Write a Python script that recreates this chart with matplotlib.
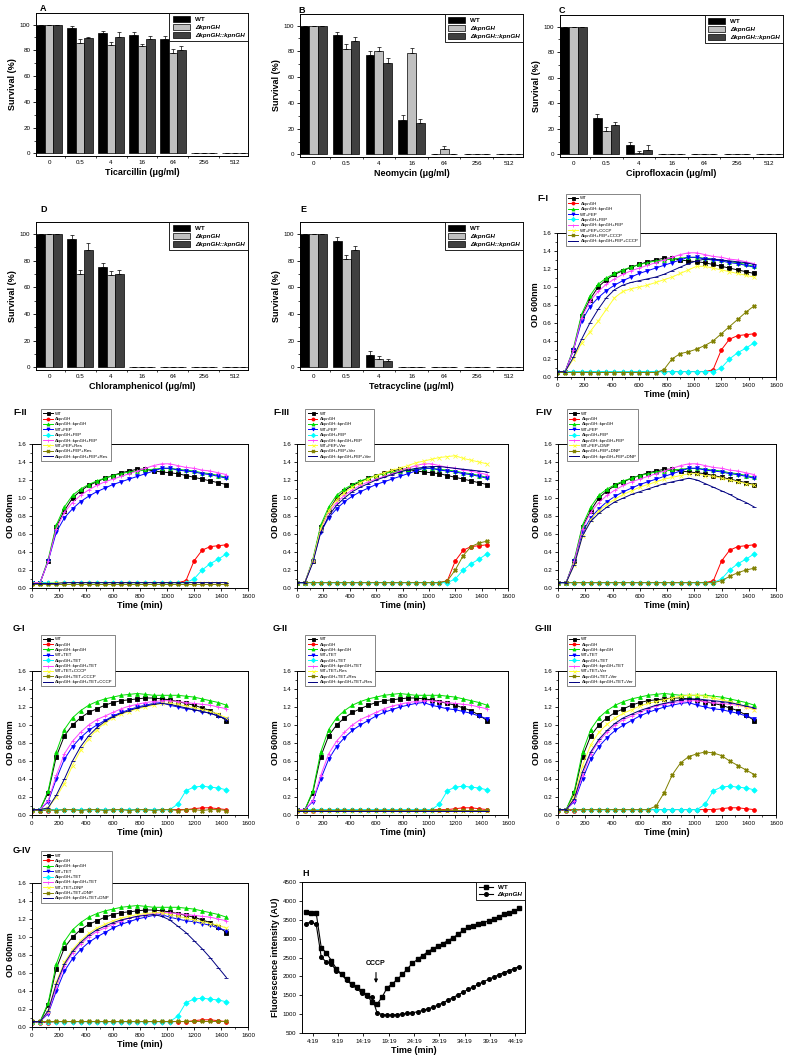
import numpy as np
import matplotlib.pyplot as plt
from matplotlib.ticker import MultipleLocator

plt.rcParams['font.family'] = ['Liberation Sans', 'DejaVu Sans']

FIG_W, FIG_H = 788, 1059

# --- 1. BAR DATA (survival %) ---
DOSES = ['0', '0.5', '4', '16', '64', '256', '512']
STRAINS = ['WT', 'ΔkpnGH', 'ΔkpnGH::kpnGH']
BAR_COLORS = ['#000000', '#c0c0c0', '#404040']

TIC_WT = [100, 97, 93.5, 92, 88.5, 0, 0]
TIC_KO = [100, 86, 84.5, 83.5, 78, 0, 0]
TIC_COMP = [100, 89.5, 90, 89, 80.5, 0, 0]
TIC_WT_ERR = [0, 2, 1.5, 2, 2.5, 0, 0]
TIC_KO_ERR = [0, 3, 2, 1.5, 3, 0, 0]
TIC_COMP_ERR = [0, 0.5, 4, 2.5, 3, 0, 0]

NEO_WT = [100, 92.5, 77.5, 27, 0, 0, 0]
NEO_KO = [100, 81.5, 80, 78.5, 4, 0, 0]
NEO_COMP = [100, 88, 71, 24.5, 0, 0, 0]
NEO_WT_ERR = [0, 2.5, 3, 3.5, 0, 0, 0]
NEO_KO_ERR = [0, 4.5, 3, 4, 2.5, 0, 0]
NEO_COMP_ERR = [0, 3, 3.5, 3, 0, 0, 0]

CIP_WT = [100, 28.5, 7.5, 0, 0, 0, 0]
CIP_KO = [100, 18, 1.5, 0, 0, 0, 0]
CIP_COMP = [100, 23, 3.5, 0, 0, 0, 0]
CIP_WT_ERR = [0, 3, 2.5, 0, 0, 0, 0]
CIP_KO_ERR = [0, 3.5, 1, 0, 0, 0, 0]
CIP_COMP_ERR = [0, 2, 3.5, 0, 0, 0, 0]

CHL_WT = [100, 96, 75, 0, 0, 0, 0]
CHL_KO = [100, 70, 69, 0, 0, 0, 0]
CHL_COMP = [100, 88, 70, 0, 0, 0, 0]
CHL_WT_ERR = [0, 3, 3, 0, 0, 0, 0]
CHL_KO_ERR = [0, 3, 3, 0, 0, 0, 0]
CHL_COMP_ERR = [0, 5, 3, 0, 0, 0, 0]

TET_WT = [100, 95, 9, 0, 0, 0, 0]
TET_KO = [100, 81, 6.5, 0, 0, 0, 0]
TET_COMP = [100, 88, 5, 0, 0, 0, 0]
TET_WT_ERR = [0, 3, 3, 0, 0, 0, 0]
TET_KO_ERR = [0, 3, 2, 0, 0, 0, 0]
TET_COMP_ERR = [0, 3, 1.5, 0, 0, 0, 0]

# --- 2. GROWTH CURVES (OD 600nm) ---
TIME = [0, 60, 120, 180, 240, 300, 360, 420, 480, 540, 600, 660, 720,
        780, 840, 900, 960, 1020, 1080, 1140, 1200, 1260, 1320, 1380, 1440]

WT_F = [0.06, 0.06, 0.30, 0.68, 0.86, 1.00, 1.08, 1.14, 1.18, 1.22, 1.25, 1.28, 1.30,
        1.32, 1.32, 1.30, 1.29, 1.28, 1.27, 1.25, 1.23, 1.21, 1.19, 1.17, 1.15]
KO_F = [0.06, 0.06, 0.06, 0.06, 0.06, 0.06, 0.06, 0.06, 0.06, 0.06, 0.06, 0.06, 0.06,
        0.06, 0.06, 0.06, 0.06, 0.06, 0.06, 0.08, 0.30, 0.42, 0.46, 0.47, 0.48]
COMP_F = [0.06, 0.06, 0.32, 0.70, 0.90, 1.03, 1.10, 1.15, 1.19, 1.22, 1.25, 1.27, 1.29,
          1.30, 1.31, 1.32, 1.33, 1.33, 1.32, 1.31, 1.30, 1.28, 1.27, 1.25, 1.23]
WT_FEP = [0.06, 0.06, 0.30, 0.62, 0.78, 0.88, 0.96, 1.02, 1.07, 1.11, 1.15, 1.18, 1.21,
          1.24, 1.27, 1.30, 1.33, 1.33, 1.31, 1.30, 1.29, 1.27, 1.26, 1.24, 1.22]
KO_FEP = [0.06, 0.06, 0.06, 0.06, 0.06, 0.06, 0.06, 0.06, 0.06, 0.06, 0.06, 0.06, 0.06,
          0.06, 0.06, 0.06, 0.06, 0.06, 0.06, 0.06, 0.10, 0.20, 0.27, 0.32, 0.38]
COMP_FEP = [0.06, 0.06, 0.30, 0.66, 0.84, 0.95, 1.03, 1.09, 1.14, 1.18, 1.21, 1.24, 1.27,
            1.30, 1.33, 1.36, 1.38, 1.38, 1.36, 1.34, 1.33, 1.31, 1.30, 1.28, 1.26]

WT_FEP_CCCP = [0.06, 0.06, 0.20, 0.38, 0.50, 0.62, 0.75, 0.88, 0.95, 0.98, 1.00, 1.02, 1.05,
               1.08, 1.11, 1.15, 1.19, 1.23, 1.23, 1.21, 1.19, 1.17, 1.15, 1.13, 1.11]
KO_FEP_CCCP = [0.05, 0.05, 0.05, 0.05, 0.05, 0.05, 0.05, 0.05, 0.05, 0.05, 0.05, 0.05, 0.05,
               0.08, 0.20, 0.26, 0.28, 0.31, 0.35, 0.40, 0.48, 0.56, 0.64, 0.72, 0.79]
COMP_FEP_CCCP = [0.06, 0.06, 0.22, 0.42, 0.60, 0.75, 0.88, 0.97, 1.02, 1.05, 1.07, 1.09, 1.11,
                 1.14, 1.18, 1.22, 1.26, 1.29, 1.31, 1.31, 1.30, 1.29, 1.28, 1.27, 1.25]

WT_FEP_RES = [0.05, 0.05, 0.05, 0.06, 0.06, 0.06, 0.06, 0.06, 0.06, 0.06, 0.06, 0.06, 0.06,
              0.06, 0.06, 0.06, 0.06, 0.06, 0.06, 0.06, 0.06, 0.06, 0.06, 0.06, 0.06]
KO_FEP_RES = [0.05, 0.05, 0.05, 0.05, 0.05, 0.05, 0.05, 0.05, 0.05, 0.05, 0.05, 0.05, 0.05,
              0.05, 0.05, 0.05, 0.05, 0.05, 0.05, 0.05, 0.05, 0.05, 0.05, 0.05, 0.05]
COMP_FEP_RES = [0.05, 0.05, 0.05, 0.05, 0.06, 0.06, 0.06, 0.06, 0.06, 0.06, 0.06, 0.06, 0.06,
                0.06, 0.06, 0.06, 0.06, 0.06, 0.06, 0.06, 0.06, 0.06, 0.06, 0.06, 0.06]

WT_FEP_VER = [0.06, 0.06, 0.30, 0.66, 0.86, 0.98, 1.06, 1.12, 1.17, 1.21, 1.25, 1.28, 1.31,
              1.33, 1.36, 1.39, 1.41, 1.43, 1.45, 1.46, 1.47, 1.44, 1.42, 1.40, 1.38]
KO_FEP_VER = [0.06, 0.06, 0.06, 0.06, 0.06, 0.06, 0.06, 0.06, 0.06, 0.06, 0.06, 0.06, 0.06,
              0.06, 0.06, 0.06, 0.06, 0.06, 0.06, 0.08, 0.20, 0.36, 0.46, 0.50, 0.52]
COMP_FEP_VER = [0.06, 0.06, 0.28, 0.62, 0.80, 0.92, 1.00, 1.07, 1.12, 1.16, 1.20, 1.23, 1.26,
                1.29, 1.31, 1.33, 1.34, 1.35, 1.35, 1.34, 1.33, 1.32, 1.31, 1.30, 1.29]

WT_FEP_DNP = [0.06, 0.06, 0.26, 0.58, 0.76, 0.86, 0.93, 0.99, 1.04, 1.08, 1.12, 1.15, 1.18,
              1.21, 1.23, 1.25, 1.27, 1.27, 1.25, 1.24, 1.22, 1.20, 1.18, 1.16, 1.14]
KO_FEP_DNP = [0.06, 0.06, 0.06, 0.06, 0.06, 0.06, 0.06, 0.06, 0.06, 0.06, 0.06, 0.06, 0.06,
              0.06, 0.06, 0.06, 0.06, 0.06, 0.06, 0.06, 0.08, 0.13, 0.17, 0.20, 0.22]
COMP_FEP_DNP = [0.06, 0.06, 0.26, 0.58, 0.74, 0.83, 0.90, 0.96, 1.00, 1.04, 1.07, 1.10, 1.13,
                1.16, 1.18, 1.20, 1.22, 1.20, 1.16, 1.12, 1.08, 1.04, 0.99, 0.95, 0.90]

WT_G = [0.06, 0.06, 0.25, 0.65, 0.88, 1.00, 1.08, 1.14, 1.18, 1.22, 1.25, 1.27, 1.28,
        1.29, 1.30, 1.30, 1.29, 1.28, 1.26, 1.24, 1.22, 1.19, 1.16, 1.11, 1.05]
KO_G = [0.05, 0.05, 0.05, 0.06, 0.06, 0.06, 0.06, 0.06, 0.06, 0.06, 0.06, 0.06, 0.06,
        0.06, 0.06, 0.06, 0.06, 0.06, 0.06, 0.06, 0.07, 0.08, 0.08, 0.07, 0.06]
COMP_G = [0.06, 0.06, 0.27, 0.70, 0.95, 1.08, 1.16, 1.22, 1.26, 1.29, 1.31, 1.33, 1.34,
          1.35, 1.34, 1.33, 1.33, 1.33, 1.33, 1.32, 1.31, 1.29, 1.27, 1.25, 1.22]
WT_TET = [0.06, 0.06, 0.15, 0.40, 0.62, 0.76, 0.86, 0.94, 1.00, 1.05, 1.10, 1.14, 1.17,
          1.20, 1.22, 1.24, 1.25, 1.22, 1.20, 1.18, 1.17, 1.15, 1.13, 1.10, 1.07]
KO_TET = [0.06, 0.06, 0.06, 0.06, 0.06, 0.06, 0.06, 0.06, 0.06, 0.06, 0.06, 0.06, 0.06,
          0.06, 0.06, 0.06, 0.06, 0.06, 0.12, 0.27, 0.31, 0.32, 0.31, 0.30, 0.28]
COMP_TET = [0.06, 0.06, 0.16, 0.44, 0.68, 0.82, 0.92, 1.00, 1.06, 1.10, 1.14, 1.18, 1.21,
            1.23, 1.25, 1.26, 1.27, 1.27, 1.26, 1.25, 1.24, 1.23, 1.22, 1.20, 1.18]

WT_TET_CCCP = [0.06, 0.06, 0.08, 0.20, 0.35, 0.55, 0.72, 0.85, 0.95, 1.02, 1.08, 1.12, 1.15,
               1.18, 1.20, 1.22, 1.24, 1.24, 1.23, 1.21, 1.19, 1.17, 1.15, 1.12, 1.08]
KO_TET_CCCP = [0.06, 0.05, 0.06, 0.05, 0.06, 0.06, 0.05, 0.06, 0.06, 0.05, 0.06, 0.06, 0.05,
               0.06, 0.06, 0.05, 0.06, 0.06, 0.05, 0.06, 0.06, 0.05, 0.06, 0.06, 0.05]
COMP_TET_CCCP = [0.06, 0.06, 0.08, 0.22, 0.40, 0.60, 0.76, 0.88, 0.97, 1.04, 1.09, 1.13, 1.16,
                 1.19, 1.21, 1.23, 1.24, 1.23, 1.21, 1.19, 1.17, 1.15, 1.13, 1.10, 1.06]

WT_TET_RES = [0.05, 0.05, 0.05, 0.05, 0.05, 0.05, 0.05, 0.05, 0.05, 0.05, 0.05, 0.05, 0.05,
              0.05, 0.05, 0.05, 0.05, 0.05, 0.05, 0.05, 0.05, 0.05, 0.05, 0.05, 0.05]
KO_TET_RES = [0.06, 0.06, 0.06, 0.06, 0.06, 0.06, 0.06, 0.06, 0.06, 0.06, 0.06, 0.06, 0.06,
              0.06, 0.06, 0.06, 0.06, 0.06, 0.06, 0.06, 0.06, 0.06, 0.06, 0.06, 0.06]
COMP_TET_RES = [0.05, 0.05, 0.05, 0.05, 0.05, 0.05, 0.05, 0.05, 0.05, 0.05, 0.05, 0.05, 0.05,
                0.05, 0.05, 0.05, 0.05, 0.05, 0.05, 0.05, 0.05, 0.05, 0.05, 0.05, 0.05]

WT_TET_VER = [0.06, 0.06, 0.20, 0.55, 0.78, 0.92, 1.01, 1.08, 1.13, 1.17, 1.21, 1.24, 1.26,
              1.28, 1.30, 1.32, 1.33, 1.33, 1.32, 1.30, 1.28, 1.26, 1.23, 1.20, 1.17]
KO_TET_VER = [0.06, 0.06, 0.06, 0.06, 0.06, 0.06, 0.06, 0.06, 0.06, 0.06, 0.06, 0.06, 0.10,
              0.25, 0.45, 0.58, 0.65, 0.68, 0.70, 0.69, 0.66, 0.60, 0.55, 0.50, 0.45]
COMP_TET_VER = [0.06, 0.06, 0.18, 0.48, 0.70, 0.84, 0.94, 1.02, 1.08, 1.12, 1.16, 1.19, 1.22,
                1.24, 1.26, 1.28, 1.29, 1.29, 1.28, 1.27, 1.26, 1.25, 1.23, 1.21, 1.19]

WT_TET_DNP = [0.06, 0.06, 0.18, 0.50, 0.72, 0.86, 0.96, 1.04, 1.10, 1.14, 1.18, 1.21, 1.23,
              1.25, 1.26, 1.27, 1.27, 1.25, 1.23, 1.21, 1.19, 1.17, 1.15, 1.13, 1.10]
KO_TET_DNP = [0.07, 0.07, 0.07, 0.07, 0.07, 0.07, 0.07, 0.07, 0.07, 0.07, 0.07, 0.07, 0.07,
              0.07, 0.07, 0.07, 0.07, 0.07, 0.07, 0.07, 0.07, 0.07, 0.07, 0.07, 0.07]
COMP_TET_DNP = [0.06, 0.06, 0.18, 0.48, 0.70, 0.84, 0.94, 1.02, 1.08, 1.12, 1.16, 1.19, 1.21,
                1.23, 1.24, 1.25, 1.23, 1.19, 1.12, 1.05, 0.96, 0.87, 0.77, 0.66, 0.55]

# --- 3. MEMBRANE POTENTIAL (panel H) ---
TIME_H = [3, 4, 5, 6, 7, 8, 9, 10, 11, 12, 13, 14, 15, 16, 17, 18, 19, 20, 21, 22, 23, 24,
          25, 26, 27, 28, 29, 30, 31, 32, 33, 34, 35, 36, 37, 38, 39, 40, 41, 42, 43, 44, 45]
H_WT = [3710, 3690, 3680, 2760, 2620, 2420, 2200, 2060, 1920, 1800, 1720, 1620, 1500, 1320,
        1260, 1450, 1700, 1800, 1920, 2050, 2200, 2350, 2450, 2550, 2650, 2730, 2800, 2870,
        2950, 3020, 3120, 3220, 3300, 3340, 3380, 3420, 3470, 3520, 3580, 3640, 3690, 3730, 3800]
H_KO = [3400, 3440, 3380, 2510, 2380, 2330, 2150, 2050, 1900, 1780, 1680, 1560, 1480, 1450,
        1040, 990, 975, 980, 990, 1000, 1020, 1040, 1060, 1100, 1140, 1180, 1240, 1300,
        1370, 1440, 1510, 1580, 1660, 1720, 1790, 1860, 1920, 1980, 2040, 2100, 2150, 2200, 2260]

GROWTH_STYLES = [
    dict(color='black', marker='s'),
    dict(color='red', marker='o'),
    dict(color='#00dd00', marker='^'),
    dict(color='blue', marker='v'),
    dict(color='cyan', marker='D'),
    dict(color='#ff44ff', marker='+'),
    dict(color='#ffff33', marker='x'),
    dict(color='#808000', marker='X'),
    dict(color='#000080', marker='_'),
]

fig = plt.figure(figsize=(FIG_W / 100, FIG_H / 100), dpi=100)


def px_rect(x0, y0, x1, y1):
    return [x0 / FIG_W, 1 - y1 / FIG_H, (x1 - x0) / FIG_W, (y1 - y0) / FIG_H]


def panel_label(x, y, text):
    fig.text(x / FIG_W, 1 - y / FIG_H, text, fontsize=6.5, fontweight='bold', va='top')


def style_axis(ax):
    for sp in ax.spines.values():
        sp.set_linewidth(0.7)
    ax.tick_params(which='major', direction='out', length=2.5, width=0.6, labelsize=4.5, pad=1.5)
    ax.tick_params(which='minor', direction='out', length=1.5, width=0.5)


def bar_panel(rect, label, lpos, drug, means, errs):
    ax = fig.add_axes(px_rect(*rect))
    x = np.arange(len(DOSES))
    w = 0.27
    for i, (m, e) in enumerate(zip(means, errs)):
        ax.bar(x + (i - 1) * w, m, w, color=BAR_COLORS[i], edgecolor='black', linewidth=0.5,
               yerr=[np.zeros(len(e)), e], label=STRAINS[i],
               error_kw=dict(ecolor='black', elinewidth=0.5, capsize=1.5, capthick=0.5))
    ax.set_xlim(-0.42, 6.42)
    ax.set_ylim(-2, 109)
    ax.set_xticks(x)
    ax.set_xticklabels(DOSES)
    ax.set_xticks(x[:-1] + 0.5, minor=True)
    ax.yaxis.set_major_locator(MultipleLocator(20))
    ax.yaxis.set_minor_locator(MultipleLocator(10))
    style_axis(ax)
    ax.tick_params(axis='x', which='major', length=0, pad=3)
    ax.set_ylabel('Survival (%)', fontsize=6.5, fontweight='bold', labelpad=2)
    ax.set_xlabel(f'{drug} (μg/ml)', fontsize=6.5, fontweight='bold', labelpad=2)
    leg = ax.legend(loc='upper right', bbox_to_anchor=(1.0, 1.0), fontsize=4.5, frameon=True,
                    fancybox=False, edgecolor='black', framealpha=1, borderpad=0.5,
                    handlelength=2.8, handleheight=1.0, labelspacing=0.35, borderaxespad=0)
    leg.get_frame().set_linewidth(0.6)
    for t in leg.get_texts():
        t.set_fontweight('bold')
    leg.get_texts()[1].set_style('italic')
    leg.get_texts()[2].set_style('italic')
    panel_label(*lpos, label)
    return ax


def growth_panel(rect, label, lpos, series, names, leg_top):
    ax = fig.add_axes(px_rect(*rect))
    for ys, name, st in zip(series, names, GROWTH_STYLES):
        ax.plot(TIME, ys, label=name, lw=0.7, markersize=2.7, markeredgewidth=0.6, **st)
    ax.set_xlim(0, 1600)
    ax.set_ylim(0, 1.6)
    ax.xaxis.set_major_locator(MultipleLocator(200))
    ax.xaxis.set_minor_locator(MultipleLocator(100))
    ax.yaxis.set_major_locator(MultipleLocator(0.2))
    ax.yaxis.set_minor_locator(MultipleLocator(0.1))
    ax.yaxis.set_major_formatter(plt.FormatStrFormatter('%.1f'))
    style_axis(ax)
    ax.set_ylabel('OD 600nm', fontsize=6.5, fontweight='bold', labelpad=2)
    ax.set_xlabel('Time (min)', fontsize=6.5, fontweight='bold', labelpad=2)
    leg = ax.legend(loc='upper left', bbox_to_anchor=(0.04, leg_top), fontsize=3.2,
                    frameon=True, fancybox=False, edgecolor='#555555', framealpha=1,
                    borderpad=0.5, handlelength=2.2, handletextpad=0.6, labelspacing=0.28,
                    markerscale=0.8, borderaxespad=0)
    leg.get_frame().set_linewidth(0.5)
    panel_label(*lpos, label)
    return ax


def names_for(drug, extra):
    return ['WT', 'ΔkpnGH', 'ΔkpnGH::kpnGH', f'WT+{drug}', f'ΔkpnGH+{drug}',
            f'ΔkpnGH::kpnGH+{drug}', f'WT+{drug}+{extra}', f'ΔkpnGH+{drug}+{extra}',
            f'ΔkpnGH::kpnGH+{drug}+{extra}']


# --- bar panels ---
bar_panel((36, 13, 248, 156), 'A', (40, 4), 'Ticarcillin',
          [TIC_WT, TIC_KO, TIC_COMP], [TIC_WT_ERR, TIC_KO_ERR, TIC_COMP_ERR])
bar_panel((300, 14, 523, 157), 'B', (298, 6), 'Neomycin',
          [NEO_WT, NEO_KO, NEO_COMP], [NEO_WT_ERR, NEO_KO_ERR, NEO_COMP_ERR])
bar_panel((560, 15, 783, 157), 'C', (559, 6), 'Ciprofloxacin',
          [CIP_WT, CIP_KO, CIP_COMP], [CIP_WT_ERR, CIP_KO_ERR, CIP_COMP_ERR])
bar_panel((36, 222, 248, 370), 'D', (40, 205), 'Chloramphenicol',
          [CHL_WT, CHL_KO, CHL_COMP], [CHL_WT_ERR, CHL_KO_ERR, CHL_COMP_ERR])
bar_panel((300, 222, 523, 370), 'E', (300, 205), 'Tetracycline',
          [TET_WT, TET_KO, TET_COMP], [TET_WT_ERR, TET_KO_ERR, TET_COMP_ERR])

# --- growth panels ---
F_BASE = [WT_F, KO_F, COMP_F, WT_FEP, KO_FEP, COMP_FEP]
G_BASE = [WT_G, KO_G, COMP_G, WT_TET, KO_TET, COMP_TET]

growth_panel((557, 233, 776, 377), 'F-I', (537, 194),
             F_BASE + [WT_FEP_CCCP, KO_FEP_CCCP, COMP_FEP_CCCP], names_for('FEP', 'CCCP'), 1.27)
growth_panel((32, 444, 248, 588), 'F-II', (13, 408),
             F_BASE + [WT_FEP_RES, KO_FEP_RES, COMP_FEP_RES], names_for('FEP', 'Res'), 1.24)
growth_panel((297, 444, 508, 588), 'F-III', (273, 408),
             F_BASE + [WT_FEP_VER, KO_FEP_VER, COMP_FEP_VER], names_for('FEP', 'Ver'), 1.24)
growth_panel((558, 444, 776, 588), 'F-IV', (535, 408),
             F_BASE + [WT_FEP_DNP, KO_FEP_DNP, COMP_FEP_DNP], names_for('FEP', 'DNP'), 1.24)
growth_panel((32, 671, 248, 815), 'G-I', (13, 624),
             G_BASE + [WT_TET_CCCP, KO_TET_CCCP, COMP_TET_CCCP], names_for('TET', 'CCCP'), 1.25)
growth_panel((297, 671, 508, 815), 'G-II', (273, 624),
             G_BASE + [WT_TET_RES, KO_TET_RES, COMP_TET_RES], names_for('TET', 'Res'), 1.25)
growth_panel((558, 671, 776, 815), 'G-III', (535, 624),
             G_BASE + [WT_TET_VER, KO_TET_VER, COMP_TET_VER], names_for('TET', 'Ver'), 1.25)
growth_panel((32, 883, 248, 1027), 'G-IV', (13, 846),
             G_BASE + [WT_TET_DNP, KO_TET_DNP, COMP_TET_DNP], names_for('TET', 'DNP'), 1.22)

# --- panel H ---
axh = fig.add_axes(px_rect(302, 882, 525, 1033))
axh.plot(TIME_H, H_WT, '-s', color='black', lw=0.8, markersize=2.6, label='WT')
axh.plot(TIME_H, H_KO, '-o', color='black', lw=0.8, markersize=2.6, label='ΔkpnGH')
axh.set_xlim(2.2, 46.2)
axh.set_ylim(500, 4500)
h_ticks = [4 + 19 / 60 + 5 * k for k in range(9)]
axh.set_xticks(h_ticks)
axh.set_xticklabels([f'{4 + 5 * k}:19' for k in range(9)])
axh.yaxis.set_major_locator(MultipleLocator(500))
style_axis(axh)
axh.set_ylabel('Fluorescence intensity (AU)', fontsize=6.5, fontweight='bold', labelpad=2)
axh.set_xlabel('Time (min)', fontsize=6.5, fontweight='bold', labelpad=2)
axh.annotate('CCCP', xy=(16.8, 1750), xytext=(16.8, 2250), ha='center', va='bottom',
             fontsize=5, fontweight='bold',
             arrowprops=dict(arrowstyle='-|>', color='black', lw=0.8, mutation_scale=5))
legh = axh.legend(loc='upper right', fontsize=4.5, frameon=True, fancybox=False,
                  edgecolor='black', framealpha=1, borderpad=0.4, handlelength=2.2,
                  labelspacing=0.3, borderaxespad=0)
legh.get_frame().set_linewidth(0.6)
for t in legh.get_texts():
    t.set_fontweight('bold')
legh.get_texts()[1].set_style('italic')
panel_label(302, 869, 'H')

fig.savefig('out.png', dpi=100)
plt.close(fig)
